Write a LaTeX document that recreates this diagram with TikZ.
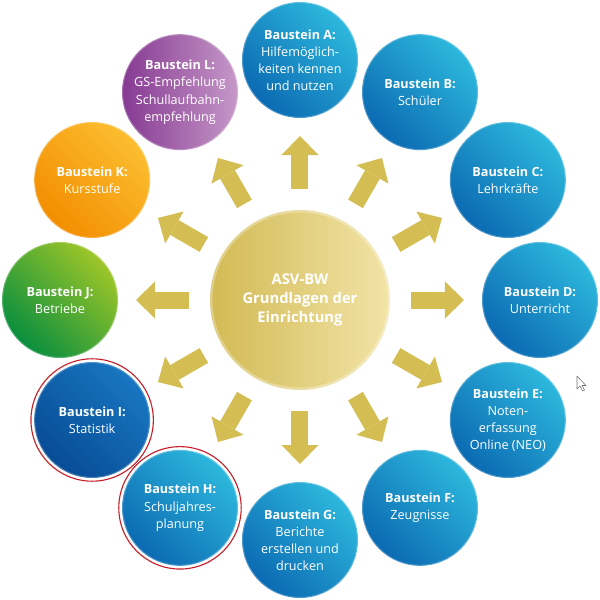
\documentclass[tikz,border=0pt]{standalone}
\usepackage{fontspec}
\setmainfont{Open Sans}
\usetikzlibrary{arrows.meta}

\definecolor{bluedark}{RGB}{11,106,178}
\definecolor{bluelight}{RGB}{45,184,221}
\definecolor{navydark}{RGB}{8,76,150}
\definecolor{navylight}{RGB}{24,118,192}
\definecolor{greendark}{RGB}{8,142,62}
\definecolor{greenlight}{RGB}{158,198,40}
\definecolor{orangedark}{RGB}{242,142,0}
\definecolor{orangelight}{RGB}{251,190,48}
\definecolor{purpledark}{RGB}{134,58,146}
\definecolor{purplelight}{RGB}{198,152,200}
\definecolor{golddark}{RGB}{210,186,84}
\definecolor{goldlight}{RGB}{242,228,168}
\definecolor{goldarrow}{RGB}{212,190,84}
\definecolor{ringred}{RGB}{200,32,42}

\tikzset{
	baustein/.style={circle, minimum size=2.9cm, inner sep=0pt, outer sep=0pt,
		text=white, align=center, font=\fontsize{9}{12.2}\selectfont,
		draw=white, draw opacity=0.25, line width=1.5pt},
	bsblue/.style={baustein, top color=bluelight, bottom color=bluedark, shading angle=-45},
	bsnavy/.style={baustein, top color=navylight, bottom color=navydark, shading angle=-45},
	bsgreen/.style={baustein, top color=greenlight, bottom color=greendark, shading angle=-45},
	bsorange/.style={baustein, top color=orangelight, bottom color=orangedark, shading angle=-45},
	bspurple/.style={baustein, left color=purpledark, right color=purplelight},
	grundlage/.style={circle, minimum size=4.5cm, inner sep=0pt, outer sep=0pt,
		text=white, align=center, font=\fontsize{10.5}{13.5}\selectfont\bfseries,
		left color=golddark, right color=goldlight,
		draw=white, draw opacity=0.3, line width=3.5pt},
	goldpfeil/.style={goldarrow, line width=0.425cm,
		-{Triangle[width=0.925cm, length=0.475cm, line width=0pt]},
		shorten <=0.525cm, shorten >=0.45cm},
	redring/.style={draw=ringred, line width=0.8pt},
	cursor/.style={draw=black!55, fill=white, line width=0.4pt, line join=round}
}

\begin{document}
\begin{tikzpicture}
			%%%%% START %%%%%
			
			\fill[white] (-7.5, -7.5) rectangle (7.5, 7.5);
			\useasboundingbox (-7.5, -7.5) rectangle (7.5, 7.5);
			
			\node[grundlage] (M) at (0, 0) {ASV-BW\\Grundlagen der\\Einrichtung};
			
			\node[bsblue] (A) at (0, 6) {\textbf{Baustein A:}\\Hilfemöglich-\\keiten kennen\\und nutzen};
			\node[bsblue] (B) at (3, 5.196) {\textbf{Baustein B:}\\Schüler};
			\node[bsblue] (C) at (5.196, 3) {\textbf{Baustein C:}\\Lehrkräfte};
			\node[bsblue] (D) at (6, 0) {\textbf{Baustein D:}\\Unterricht};
			\node[bsblue] (E) at (5.196, -3) {\textbf{Baustein E:}\\Noten-\\erfassung\\Online (NEO)};
			\node[bsblue] (F) at (3, -5.196) {\textbf{Baustein F:}\\Zeugnisse};
			\node[bsblue] (G) at (0, -6) {\textbf{Baustein G:}\\Berichte\\erstellen und\\drucken};
			\node[bsblue] (H) at (-3, -5.196) {\textbf{Baustein H:}\\Schuljahres-\\planung};
			\node[bsnavy] (I) at (-5.196, -3) {\textbf{Baustein I:}\\Statistik};
			\node[bsgreen] (J) at (-6, 0) {\textbf{Baustein J:}\\Betriebe};
			\node[bsorange] (K) at (-5.196, 3) {\textbf{Baustein K:}\\Kursstufe};
			\node[bspurple] (L) at (-3, 5.196) {\textbf{Baustein L:}\\GS-Empfehlung\\Schullaufbahn-\\empfehlung};
			
			\draw[redring] (H.center) circle (1.53);
			\draw[redring] (I.center) circle (1.53);
			
			\draw[goldpfeil] (M) -- (A);
			\draw[goldpfeil] (M) -- (B);
			\draw[goldpfeil] (M) -- (C);
			\draw[goldpfeil] (M) -- (D);
			\draw[goldpfeil] (M) -- (E);
			\draw[goldpfeil] (M) -- (F);
			\draw[goldpfeil] (M) -- (G);
			\draw[goldpfeil] (M) -- (H);
			\draw[goldpfeil] (M) -- (I);
			\draw[goldpfeil] (M) -- (J);
			\draw[goldpfeil] (M) -- (K);
			\draw[goldpfeil] (M) -- (L);
			
			\draw[cursor] (6.925, -1.9) -- ++(0, -0.325) -- ++(0.075, 0.075) -- ++(0.0625, -0.125)
				-- ++(0.05, 0.025) -- ++(-0.0625, 0.1125) -- ++(0.1, 0) -- cycle;
			
			%%%%% END %%%%%
		\end{tikzpicture}
\end{document}
